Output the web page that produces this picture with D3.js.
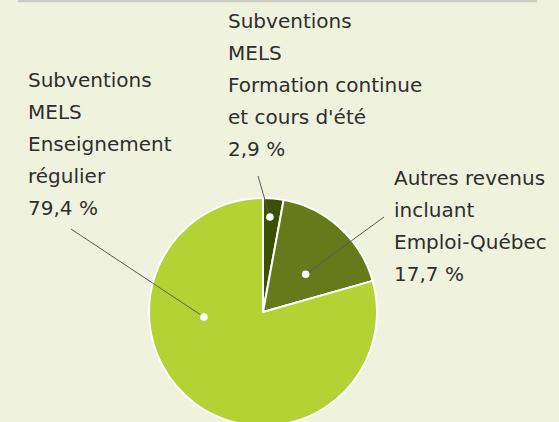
<!DOCTYPE html>
<html>
<head>
<meta charset="utf-8">
<script src="https://cdn.jsdelivr.net/npm/d3@7"></script>
<style>
  body { margin: 0; background: #eff3de; }
  svg { display: block; }
  .lbl { font-family: "DejaVu Sans", sans-serif; font-size: 20px; fill: #2e2e2e; }
</style>
</head>
<body>
<div id="chart"></div>
<script>
// data
const categories = ["Formation continue", "Autres revenus", "Enseignement régulier"];
const values = [2.9, 17.7, 79.4];
const labelLines = [
    ["Subventions", "MELS", "Formation continue", "et cours d'été", "2,9 %"],
    ["Autres revenus", "incluant", "Emploi-Québec", "17,7 %"],
    ["Subventions", "MELS", "Enseignement", "régulier", "79,4 %"]
];
const colors = ["#3b5000", "#66791b", "#b5d234"];

// layout
const width = 559, height = 422;
const cx = 263, cy = 312, radius = 114;
const lineH = 32;
// text block origin (first baseline) and leader line start for each slice
const labelLayout = [
    { x: 228, y: 28, lx: 258, ly: 176 },
    { x: 394, y: 185, lx: 384, ly: 217 },
    { x: 28, y: 87, lx: 71, ly: 229 }
];
// where the white dot sits inside the slice (fraction of angle, fraction of radius)
const dotPlace = [[0.4, 0.836], [0.597, 0.5], [0.668, 0.52]];

const svg = d3.select("#chart")
    .append("svg")
    .attr("width", width)
    .attr("height", height);

// top rule
svg.append("line")
    .attr("x1", 18).attr("x2", 537)
    .attr("y1", 1).attr("y2", 1)
    .attr("stroke", "#c9cbc0")
    .attr("stroke-width", 2.5);

const pie = d3.pie().sort(null).value(d => d);
const arcs = pie(values);

const arc = d3.arc().innerRadius(0).outerRadius(radius);

const g = svg.append("g").attr("transform", `translate(${cx},${cy})`);

g.selectAll("path")
    .data(arcs)
    .enter()
    .append("path")
    .attr("d", arc)
    .attr("fill", (d, i) => colors[i])
    .attr("stroke", "#ffffff")
    .attr("stroke-width", 2)
    .attr("stroke-linejoin", "round");

// dot positions
const dots = arcs.map((d, i) => {
    const a = d.startAngle + (d.endAngle - d.startAngle) * dotPlace[i][0];
    const r = radius * dotPlace[i][1];
    return [cx + r * Math.sin(a), cy - r * Math.cos(a)];
});

// leader lines
svg.selectAll("line.leader")
    .data(dots)
    .enter()
    .append("line")
    .attr("class", "leader")
    .attr("x1", (d, i) => labelLayout[i].lx)
    .attr("y1", (d, i) => labelLayout[i].ly)
    .attr("x2", d => d[0])
    .attr("y2", d => d[1])
    .attr("stroke", "#5a5a5a")
    .attr("stroke-width", 1);

svg.selectAll("circle.dot")
    .data(dots)
    .enter()
    .append("circle")
    .attr("class", "dot")
    .attr("cx", d => d[0])
    .attr("cy", d => d[1])
    .attr("r", 3.8)
    .attr("fill", "#ffffff");

// labels
labelLines.forEach((lines, i) => {
    const t = svg.append("text")
        .attr("class", "lbl")
        .attr("x", labelLayout[i].x)
        .attr("y", labelLayout[i].y);
    lines.forEach((s, j) => {
        t.append("tspan")
            .attr("x", labelLayout[i].x)
            .attr("y", labelLayout[i].y + j * lineH)
            .text(s);
    });
});
</script>
</body>
</html>
